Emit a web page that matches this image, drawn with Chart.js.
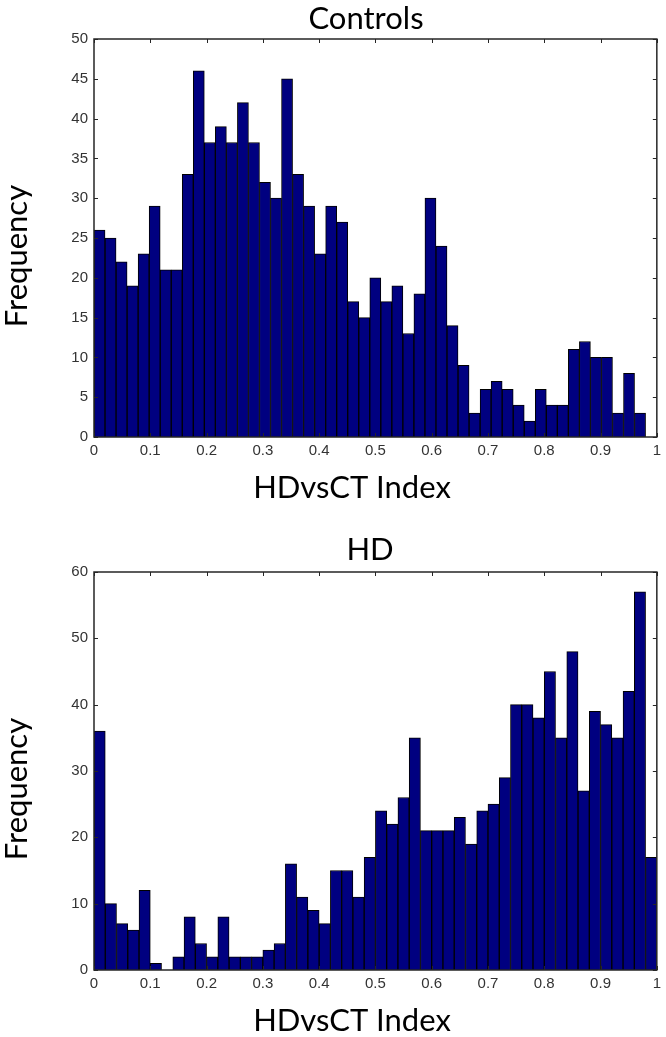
<!DOCTYPE html>
<html>
<head>
<meta charset="utf-8">
<title>HDvsCT Index histograms</title>
<script src="https://cdn.jsdelivr.net/npm/chart.js@4.4.1/dist/chart.umd.min.js"></script>
<style>
  html, body { margin: 0; padding: 0; background: #fff; }
  #wrap { position: relative; width: 666px; height: 1037px; overflow: hidden; }
  canvas { position: absolute; left: 0; }
  #controlsChart { top: 0; }
  #hdChart { top: 520px; }
</style>
</head>
<body>
<div id="wrap">
  <canvas id="controlsChart" width="666" height="520"></canvas>
  <canvas id="hdChart" width="666" height="517"></canvas>
</div>
<script>
// counts per bin (50 bins each)
const controlsCounts = [
  26, 25, 22, 19, 23, 29, 21, 21, 33, 46,
  37, 39, 37, 42, 37, 32, 30, 45, 33, 29,
  23, 29, 27, 17, 15, 20, 17, 19, 13, 18,
  30, 24, 14, 9, 3, 6, 7, 6, 4, 2,
  6, 4, 4, 11, 12, 10, 10, 3, 8, 3,
];
const hdCounts = [
  36, 10, 7, 6, 12, 1, 0, 2, 8, 4,
  2, 8, 2, 2, 2, 3, 4, 16, 11, 9,
  7, 15, 15, 11, 17, 24, 22, 26, 35, 21,
  21, 21, 23, 19, 24, 25, 29, 40, 40, 38,
  45, 35, 48, 27, 39, 37, 35, 42, 57, 17,
];
// range covered by the bins (controls data stops at 0.98)
const controlsBinRange = [0, 0.98];
const hdBinRange = [0, 1];

const xTickValues = [0, 0.1, 0.2, 0.3, 0.4, 0.5, 0.6, 0.7, 0.8, 0.9, 1];
const controlsYTicks = [0, 5, 10, 15, 20, 25, 30, 35, 40, 45, 50];
const hdYTicks = [0, 10, 20, 30, 40, 50, 60];

const BAR_FILL = "#000080";
const AXIS_COLOR = "#262626";
const TICK_COLOR = "#333";
const TITLE_FONT = "Lato, 'Open Sans', sans-serif";
const TICK_FONT = "'Liberation Sans', Arial, sans-serif";

function binCenters(range, n) {
  const w = (range[1] - range[0]) / n;
  return Array.from({ length: n }, (_, i) => range[0] + w * (i + 0.5));
}

// matlab style box: frame on all four sides, tick marks pointing inwards
const axesBox = {
  id: "axesBox",
  afterDatasetsDraw(chart) {
    const { ctx, chartArea: a, scales } = chart;
    const len = 4;
    ctx.save();
    ctx.strokeStyle = AXIS_COLOR;
    ctx.lineWidth = 1;
    ctx.beginPath();
    scales.x.ticks.forEach((t) => {
      const x = Math.round(scales.x.getPixelForValue(t.value)) + 0.5;
      ctx.moveTo(x, a.bottom);
      ctx.lineTo(x, a.bottom - len);
      ctx.moveTo(x, a.top);
      ctx.lineTo(x, a.top + len);
    });
    scales.y.ticks.forEach((t) => {
      const y = Math.round(scales.y.getPixelForValue(t.value)) + 0.5;
      ctx.moveTo(a.left, y);
      ctx.lineTo(a.left + len, y);
      ctx.moveTo(a.right, y);
      ctx.lineTo(a.right - len, y);
    });
    ctx.stroke();
    ctx.lineWidth = 1.5;
    ctx.strokeRect(a.left, a.top, a.right - a.left, a.bottom - a.top);
    ctx.restore();
  },
};

// title / axis captions, placed where the figure's text boxes sit
const headings = {
  id: "headings",
  afterDraw(chart, args, opts) {
    const { ctx, chartArea: a } = chart;
    ctx.save();
    ctx.fillStyle = "#000";
    ctx.font = opts.size + "px " + TITLE_FONT;
    ctx.textAlign = "center";
    ctx.textBaseline = "middle";
    ctx.fillText(opts.title, opts.titleX, a.top - opts.titleGap);
    ctx.fillText(opts.xLabel, opts.xLabelX, a.bottom + opts.xLabelGap);
    ctx.translate(opts.yLabelX, (a.top + a.bottom) / 2 + opts.yLabelShift);
    ctx.rotate(-Math.PI / 2);
    ctx.fillText(opts.yLabel, 0, 0);
    ctx.restore();
  },
};

function makeHistogram(canvasId, counts, binRange, yTicks, text, area) {
  const centers = binCenters(binRange, counts.length);
  return new Chart(document.getElementById(canvasId), {
    type: "bar",
    data: {
      datasets: [
        {
          data: counts.map((c, i) => ({ x: centers[i], y: c })),
          backgroundColor: BAR_FILL,
          borderColor: "#000",
          borderWidth: { top: 1, left: 1, right: 1, bottom: 0 },
          barPercentage: 1,
          categoryPercentage: 1,
        },
      ],
    },
    options: {
      responsive: false,
      animation: false,
      layout: { padding: { top: area.top, right: 9, left: 0, bottom: 0 } },
      plugins: {
        legend: { display: false },
        tooltip: { enabled: false },
        headings: text,
      },
      scales: {
        x: {
          type: "linear",
          min: 0,
          max: 1,
          offset: false,
          afterBuildTicks: (s) => {
            s.ticks = xTickValues.map((v) => ({ value: v }));
          },
          afterFit: (s) => {
            s.height = area.xHeight;
          },
          grid: { display: false, drawTicks: false, offset: false },
          border: { display: false },
          ticks: {
            padding: 5,
            maxRotation: 0,
            autoSkip: false,
            color: TICK_COLOR,
            font: { family: TICK_FONT, size: 15 },
            callback: (v) => String(v),
          },
        },
        y: {
          min: 0,
          max: yTicks[yTicks.length - 1],
          afterBuildTicks: (s) => {
            s.ticks = yTicks.map((v) => ({ value: v }));
          },
          afterFit: (s) => {
            s.width = 94;
          },
          grid: { display: false, drawTicks: false },
          border: { display: false },
          ticks: {
            padding: 6,
            color: TICK_COLOR,
            font: { family: TICK_FONT, size: 15 },
            callback: (v) => String(v),
          },
        },
      },
    },
    plugins: [axesBox, headings],
  });
}

makeHistogram(
  "controlsChart",
  controlsCounts,
  controlsBinRange,
  controlsYTicks,
  {
    title: "Controls", xLabel: "HDvsCT Index", yLabel: "Frequency",
    size: 31, titleX: 366, titleGap: 20, xLabelX: 352, xLabelGap: 51,
    yLabelX: 17, yLabelShift: 18,
  },
  { top: 39, xHeight: 83 }
);

makeHistogram(
  "hdChart",
  hdCounts,
  hdBinRange,
  hdYTicks,
  {
    title: "HD", xLabel: "HDvsCT Index", yLabel: "Frequency",
    size: 31, titleX: 370, titleGap: 22, xLabelX: 352, xLabelGap: 51,
    yLabelX: 17, yLabelShift: 18,
  },
  { top: 52, xHeight: 67 }
);
</script>
</body>
</html>
